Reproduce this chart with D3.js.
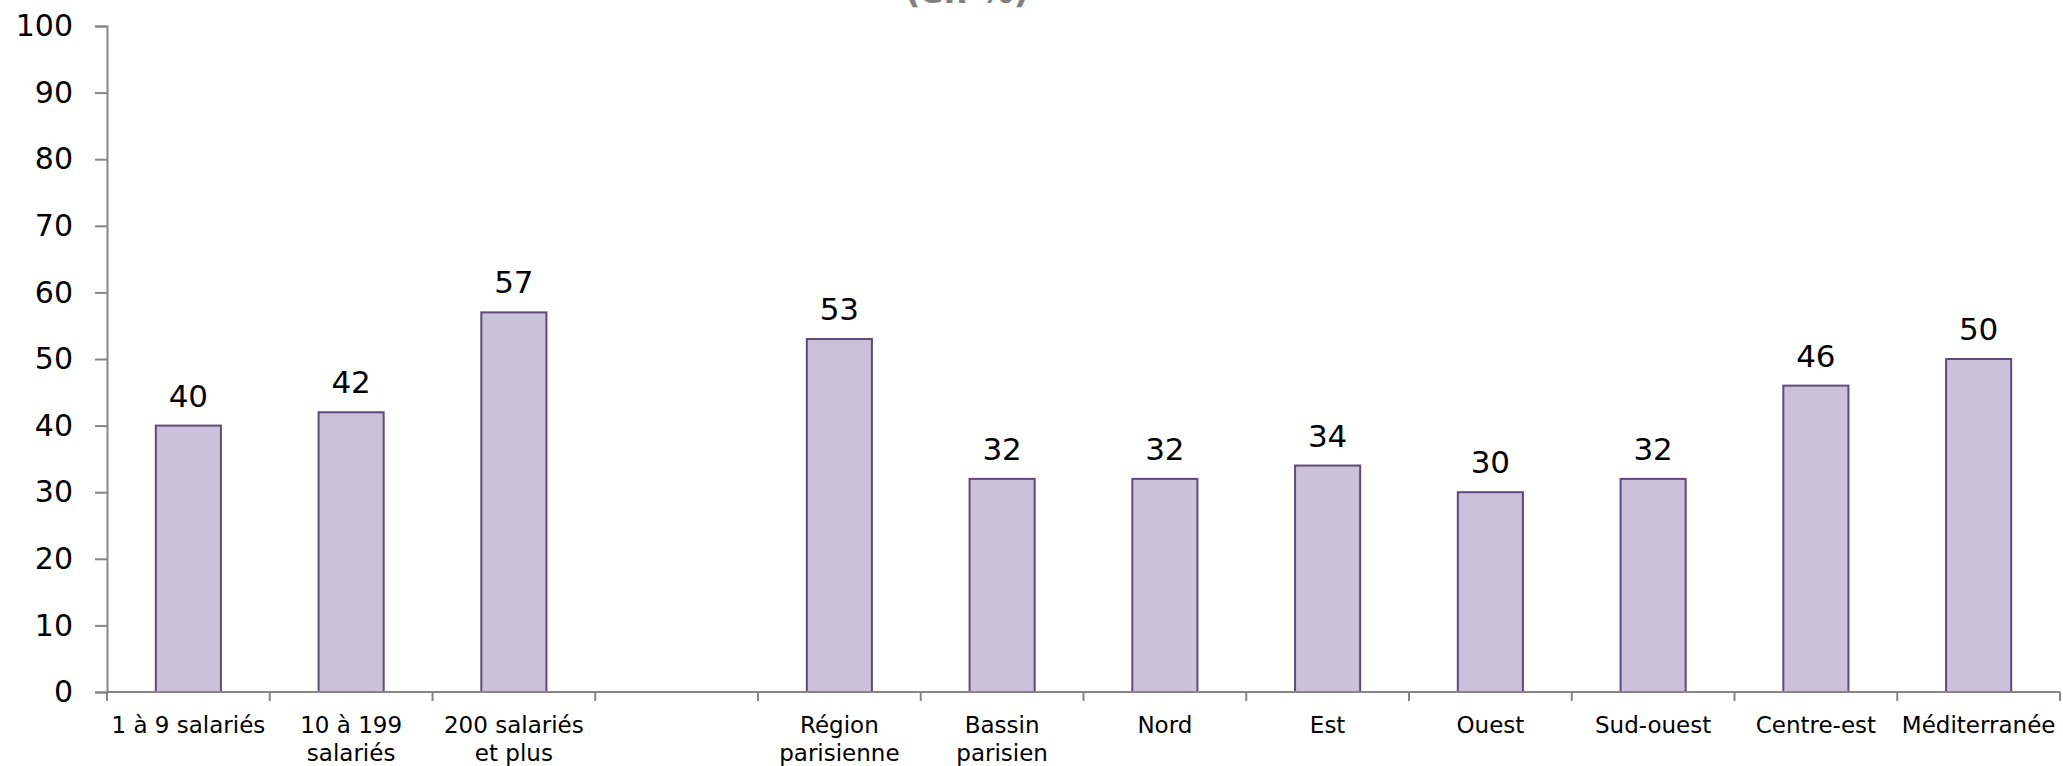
<!DOCTYPE html>
<html>
<head>
<meta charset="utf-8">
<script src="https://cdn.jsdelivr.net/npm/d3@7"></script>
<style>
  html, body { margin: 0; padding: 0; background: #fff; }
  svg { display: block; }
</style>
</head>
<body>
<svg id="chart" width="2063" height="766"></svg>
<script>
const categories = [
  ["1 à 9 salariés"], ["10 à 199", "salariés"], ["200 salariés", "et plus"], [""],
  ["Région", "parisienne"], ["Bassin", "parisien"], ["Nord"], ["Est"], ["Ouest"],
  ["Sud-ouest"], ["Centre-est"], ["Méditerranée"]
];
const values = [40, 42, 57, null, 53, 32, 32, 34, 30, 32, 46, 50];
const yTicks = [0, 10, 20, 30, 40, 50, 60, 70, 80, 90, 100];
const title = "(en %)";

const svg = d3.select("#chart");
const margin = { left: 107, right: 3, top: 26, bottom: 74 };
const W = 2063, H = 766;
const keys = categories.map((d, i) => i);

const x = d3.scaleBand().domain(keys).range([margin.left, W - margin.right]).paddingInner(0).paddingOuter(0);
const y = d3.scaleLinear().domain([0, 100]).range([H - margin.bottom, margin.top]);

const axisColor = "#868686";
const fontMain = "Verdana, 'DejaVu Sans', sans-serif";

// title (clipped at top)
svg.append("text")
  .attr("x", 967).attr("y", 3)
  .attr("text-anchor", "middle")
  .attr("font-family", fontMain).attr("font-weight", "bold")
  .attr("font-size", 34).attr("fill", "#808080")
  .text(title);

// bars
const bw = x.bandwidth() * 0.4;
svg.append("g").selectAll("rect")
  .data(values.map((v, i) => ({ v, i })).filter(d => d.v !== null))
  .join("rect")
  .attr("x", d => x(d.i) + (x.bandwidth() - bw) / 2)
  .attr("y", d => y(d.v))
  .attr("width", bw)
  .attr("height", d => y(0) - y(d.v))
  .attr("fill", "#CCC1DA")
  .attr("stroke", "#604A7B")
  .attr("stroke-width", 2);

// value labels
svg.append("g").selectAll("text")
  .data(values.map((v, i) => ({ v, i })).filter(d => d.v !== null))
  .join("text")
  .attr("x", d => x(d.i) + x.bandwidth() / 2)
  .attr("y", d => y(d.v) - 19)
  .attr("text-anchor", "middle")
  .attr("font-family", fontMain)
  .attr("font-size", 31)
  .attr("fill", "#000")
  .text(d => d.v);

// y axis
const yAxis = svg.append("g")
  .attr("transform", `translate(${margin.left},0)`)
  .call(d3.axisLeft(y).tickValues(yTicks).tickSize(12).tickPadding(22));
yAxis.select(".domain").attr("stroke", axisColor).attr("stroke-width", 2);
yAxis.selectAll(".tick line").attr("stroke", axisColor).attr("stroke-width", 2);
yAxis.selectAll(".tick text")
  .attr("font-family", fontMain).attr("font-size", 30).attr("fill", "#000");

// x axis
const xAxisG = svg.append("g").attr("transform", `translate(0,${y(0)})`);
xAxisG.append("line")
  .attr("x1", margin.left).attr("x2", W - margin.right)
  .attr("stroke", axisColor).attr("stroke-width", 2);
const boundaries = keys.map(k => x(k)).concat([x(keys[keys.length - 1]) + x.bandwidth()]);
xAxisG.selectAll("line.tk").data(boundaries).join("line")
  .attr("class", "tk")
  .attr("x1", d => d).attr("x2", d => d)
  .attr("y1", 0).attr("y2", 9)
  .attr("stroke", axisColor).attr("stroke-width", 2);

const labels = xAxisG.selectAll("text.xl").data(keys).join("text")
  .attr("class", "xl")
  .attr("x", k => x(k) + x.bandwidth() / 2)
  .attr("y", 41)
  .attr("text-anchor", "middle")
  .attr("font-family", fontMain)
  .attr("font-size", 23)
  .attr("fill", "#000");
labels.selectAll("tspan").data(k => categories[k]).join("tspan")
  .attr("x", function() { return d3.select(this.parentNode).attr("x"); })
  .attr("dy", (d, i) => i === 0 ? 0 : 28)
  .text(d => d);
</script>
</body>
</html>
